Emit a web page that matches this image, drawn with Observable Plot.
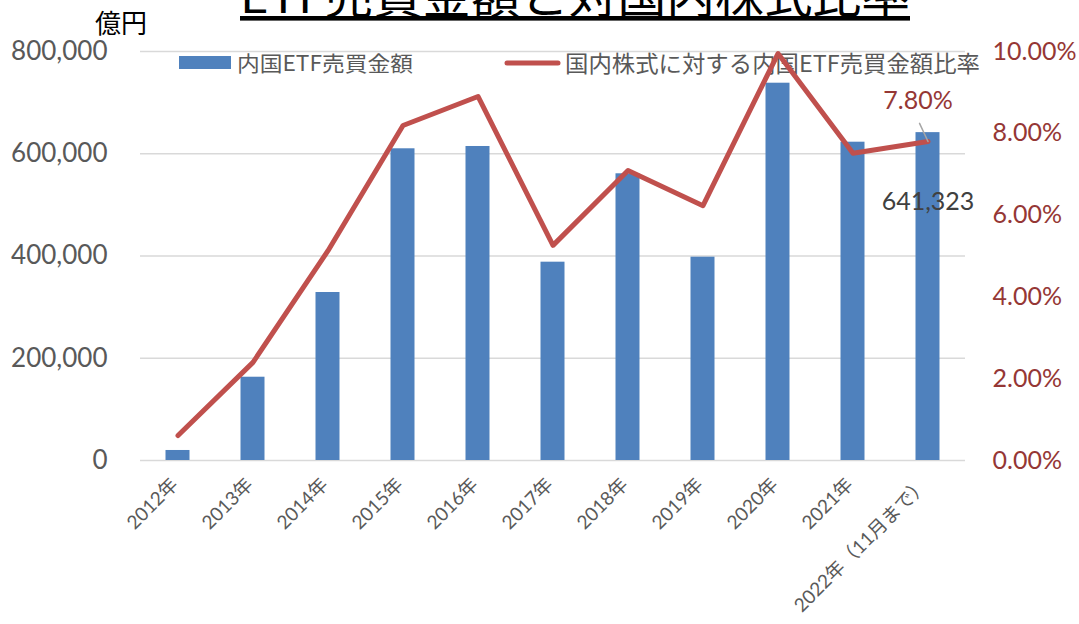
<!DOCTYPE html>
<html>
<head>
<meta charset="utf-8">
<script src="https://cdn.jsdelivr.net/npm/d3@7"></script>
<script src="https://cdn.jsdelivr.net/npm/@observablehq/plot@0.6"></script>
<style>
  html, body { margin: 0; padding: 0; background: #fff; }
  #wrap { position: relative; width: 1079px; height: 624px; overflow: hidden; }
  #bg, #chart { position: absolute; left: 0; top: 0; }
  #bg { z-index: 0; }
  #chart { z-index: 1; }
  text { font-family: Lato, "Noto Sans CJK JP", sans-serif; }
</style>
</head>
<body>
<div id="wrap">
  <svg id="bg" width="1079" height="624">
    <text x="575" y="13" text-anchor="middle" font-size="46" font-weight="400" fill="#000" text-decoration="underline" textLength="670" lengthAdjust="spacingAndGlyphs" style="font-family:'Noto Sans CJK JP'; font-weight:400">ETF売買金額と対国内株式比率</text>
    <text x="95" y="33" font-size="26" fill="#000" style="font-family:'Noto Sans CJK JP'">億円</text>
    <rect x="179" y="56" width="52" height="13" fill="#4F81BD"></rect>
    <text x="237" y="70.5" font-size="21" fill="#595959" textLength="176" lengthAdjust="spacingAndGlyphs" style="font-family:'Noto Sans CJK JP'">内国ETF売買金額</text>
    <line x1="507" x2="558" y1="63" y2="63" stroke="#C0504D" stroke-width="5" stroke-linecap="round"></line>
    <text x="565" y="71.5" font-size="23" fill="#595959" textLength="415" lengthAdjust="spacingAndGlyphs" style="font-family:'Noto Sans CJK JP'">国内株式に対する内国ETF売買金額比率</text>
  </svg>
  <div id="chart"></div>
</div>
<script>
const years = ["2012年","2013年","2014年","2015年","2016年","2017年","2018年","2019年","2020年","2021年","2022年（11月まで）"];
const amounts = [19600, 162900, 328600, 609700, 614200, 387900, 560800, 397700, 738000, 622600, 641323];
const ratios = [0.61, 2.40, 5.13, 8.19, 8.90, 5.26, 7.09, 6.23, 9.95, 7.51, 7.80];
const leftTicks = [0, 200000, 400000, 600000, 800000];
const rightTicks = [0, 2, 4, 6, 8, 10];
const lastAmountLabel = "641,323";
const lastRatioLabel = "7.80%";

const FONT = 'Lato, "Noto Sans CJK JP", sans-serif';
const K = 800000 / 10; // percent -> left-axis units

const data = years.map((year, i) => ({year, amount: amounts[i], ratio: ratios[i]}));
const last = [data[data.length - 1]];

const leader = {draw(context, l) { context.moveTo(0, 0); context.lineTo(0, -l); }};

const chart = Plot.plot({
  width: 1079,
  height: 624,
  marginLeft: 140,
  marginRight: 114,
  marginTop: 51,
  marginBottom: 164,
  style: {background: "transparent", fontFamily: FONT, overflow: "visible"},
  x: {domain: years, padding: 0, label: null},
  y: {domain: [0, 800000], label: null},
  marks: [
    Plot.gridY(leftTicks, {stroke: "#d9d9d9", strokeOpacity: 1, strokeWidth: 1.3}),
    Plot.barY(data, {x: "year", y: "amount", fill: "#4F81BD", insetLeft: 25.5, insetRight: 25.5}),
    Plot.line(data, {x: "year", y: d => d.ratio * K, stroke: "#C0504D", strokeWidth: 5, strokeLinejoin: "round", strokeLinecap: "round"}),
    Plot.axisY({anchor: "left", ticks: leftTicks, tickSize: 0, tickPadding: 33, fontSize: 26, fill: "#595959", tickFormat: d3.format(","), label: null}),
    Plot.axisY({anchor: "right", ticks: rightTicks.map(p => p * K), tickSize: 0, tickPadding: 27, fontSize: 25, fill: "#953735", tickFormat: d => (d / K).toFixed(2) + "%", label: null}),
    Plot.axisX({tickRotate: -45, tickSize: 0, tickPadding: 21, dx: -3, fontSize: 19, fill: "#595959", label: null}),
    Plot.text(last, {x: "year", y: "amount", text: () => lastAmountLabel, dy: 69, fontSize: 25, fill: "#404040"}),
    Plot.vector(last, {x: "year", y: d => d.ratio * K, length: 20, rotate: -25, anchor: "start", shape: leader, stroke: "#a6a6a6", strokeWidth: 1.5}),
    Plot.text(last, {x: "year", y: d => d.ratio * K, text: () => lastRatioLabel, dy: -40, dx: -10, fontSize: 25, fill: "#953735"})
  ]
});
document.getElementById("chart").appendChild(chart);
</script>
</body>
</html>
